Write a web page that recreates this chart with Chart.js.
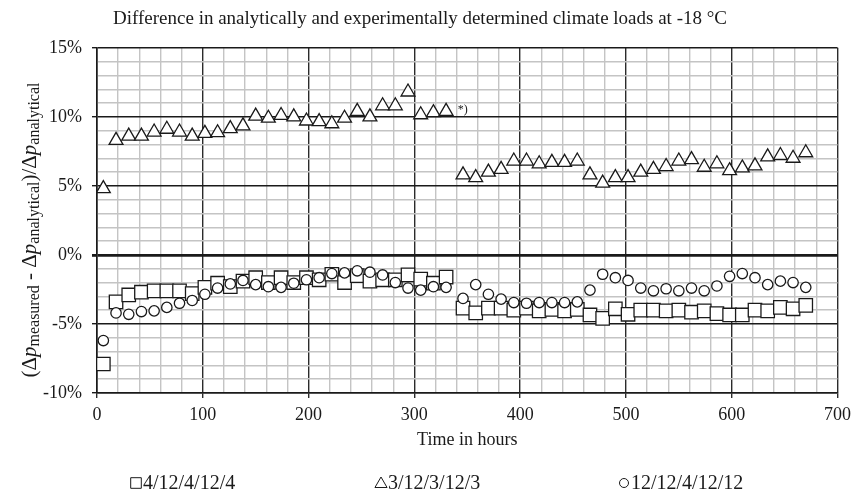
<!DOCTYPE html>
<html lang="en">
<head>
<meta charset="UTF-8">
<title>Climate loads at -18 °C</title>
<script src="https://cdn.jsdelivr.net/npm/chart.js"></script>
<style>
  html, body { margin: 0; padding: 0; background: #fff; }
  #wrap { width: 857px; height: 500px; }
</style>
</head>
<body>
<div id="wrap"><canvas id="chart" width="857" height="500"></canvas></div>
<script>
// time of each measurement (hours)
const hours = [6, 18, 30, 42, 54, 66, 78, 90, 102, 114, 126, 138, 150, 162, 174, 186, 198, 210, 222, 234,
               246, 258, 270, 282, 294, 306, 318, 330,
               346, 358, 370, 382, 394, 406, 418, 430, 442, 454, 466, 478, 490, 502, 514, 526, 538, 550,
               562, 574, 586, 598, 610, 622, 634, 646, 658, 670];

// (dp measured - dp analytical) / dp analytical, in %
const glass4 = [-7.9, -3.4, -2.9, -2.7, -2.6, -2.6, -2.6, -2.8, -2.35, -2.05, -2.3, -1.9, -1.65, -2.0, -1.65, -2.0,
                -1.65, -1.8, -1.4, -2.0, -1.5, -1.9, -1.8, -1.8, -1.45, -1.75, -2.05, -1.6,
                -3.85, -4.2, -3.85, -3.85, -4.0, -3.85, -4.05, -3.95, -4.05, -3.95, -4.35, -4.6, -3.9, -4.3,
                -4.0, -4.0, -4.05, -4.0, -4.15, -4.05, -4.25, -4.35, -4.35, -4.0, -4.05, -3.8, -3.9, -3.65];
const glass3 = [4.8, 8.3, 8.6, 8.6, 8.9, 9.1, 8.9, 8.6, 8.8, 8.85, 9.15, 9.35, 10.05, 9.9, 10.1, 10.0,
                9.7, 9.65, 9.5, 9.9, 10.4, 10.0, 10.8, 10.8, 11.8, 10.15, 10.3, 10.4,
                5.8, 5.6, 6.0, 6.2, 6.8, 6.8, 6.6, 6.7, 6.7, 6.8, 5.8, 5.2, 5.6, 5.6,
                6.0, 6.2, 6.4, 6.8, 6.9, 6.35, 6.6, 6.1, 6.3, 6.45, 7.1, 7.2, 7.0, 7.4];
const glass12 = [-6.2, -4.2, -4.3, -4.1, -4.05, -3.8, -3.5, -3.3, -2.85, -2.4, -2.1, -1.85, -2.15, -2.3, -2.35, -2.05,
                 -1.8, -1.65, -1.35, -1.3, -1.15, -1.25, -1.45, -2.0, -2.4, -2.55, -2.3, -2.35,
                 -3.15, -2.15, -2.85, -3.2, -3.45, -3.5, -3.45, -3.45, -3.45, -3.4, -2.55, -1.4, -1.65, -1.85,
                 -2.4, -2.6, -2.45, -2.6, -2.4, -2.6, -2.25, -1.55, -1.35, -1.65, -2.15, -1.9, -2.0, -2.35];

const seriesNames = ['4/12/4/12/4', '3/12/3/12/3', '12/12/4/12/12'];
const seriesShapes = ['rect', 'triangle', 'circle'];

const SERIF = "'Liberation Serif', 'DejaVu Serif', serif";
const INK = '#1a1a1a';

function toPoints(vals) {
    return hours.map((h, i) => ({ x: h, y: vals[i] }));
}

// y title with italic p and subscripts, drawn rotated
const yTitlePlugin = {
    id: 'yTitle',
    afterDraw(chart) {
        const ctx = chart.ctx;
        const big = '21px ' + SERIF, bigI = 'italic 21px ' + SERIF, small = '16px ' + SERIF;
        const parts = [
            ['(Δ', big, 0], ['p', bigI, 0], ['measured', small, 5],
            [' - Δ', big, 0], ['p', bigI, 0], ['analytical', small, 5],
            [')/Δ', big, 0], ['p', bigI, 0], ['analytical', small, 5]
        ];
        ctx.save();
        let total = 0;
        parts.forEach(p => { ctx.font = p[1]; total += ctx.measureText(p[0]).width; });
        ctx.translate(30, 230);
        ctx.rotate(-Math.PI / 2);
        ctx.fillStyle = INK;
        ctx.textBaseline = 'middle';
        let x = -total / 2;
        parts.forEach(p => {
            ctx.font = p[1];
            ctx.fillText(p[0], x, p[2]);
            x += ctx.measureText(p[0]).width;
        });
        ctx.restore();
    }
};

// "*)" note next to the last point of the first run
const notePlugin = {
    id: 'note',
    afterDatasetsDraw(chart) {
        const ctx = chart.ctx;
        const xs = chart.scales.x, ys = chart.scales.y;
        ctx.save();
        ctx.font = '12px ' + SERIF;
        ctx.fillStyle = INK;
        ctx.textBaseline = 'middle';
        ctx.fillText('*)', xs.getPixelForValue(341), ys.getPixelForValue(10.5));
        ctx.restore();
    }
};

// legend spread across the bottom like the original
const legendPlugin = {
    id: 'spreadLegend',
    afterDraw(chart) {
        const ctx = chart.ctx;
        const starts = [131, 376, 619];
        const y = 483;
        ctx.save();
        ctx.textBaseline = 'middle';
        chart.data.datasets.forEach((ds, i) => {
            const r = ds.pointStyle === 'circle' ? 4.5 : (ds.pointStyle === 'rect' ? 7.5 : 7);
            ctx.strokeStyle = INK;
            ctx.fillStyle = '#fff';
            Chart.helpers.drawPoint(ctx, {
                pointStyle: ds.pointStyle, radius: r, borderWidth: 1.2
            }, starts[i] + 5, y + (ds.pointStyle === 'triangle' ? 1 : 0));
            ctx.fillStyle = INK;
            ctx.font = '20px ' + SERIF;
            ctx.fillText(seriesNames[i], starts[i] + 12, y + 1);
        });
        ctx.restore();
    }
};

const datasets = [glass4, glass3, glass12].map((vals, i) => ({
    label: seriesNames[i],
    data: toPoints(vals),
    order: 2 - i,
    pointStyle: seriesShapes[i],
    pointRadius: [9.5, 8, 5.2][i],
    pointBorderWidth: 1.3,
    pointBorderColor: INK,
    pointBackgroundColor: '#fff',
    showLine: false
}));

new Chart(document.getElementById('chart'), {
    type: 'scatter',
    data: { datasets: datasets },
    options: {
        responsive: false,
        animation: false,
        layout: { padding: { left: 0, right: 17, top: 0, bottom: 49 } },
        plugins: {
            legend: { display: false },
            tooltip: { enabled: false },
            title: {
                display: true,
                text: 'Difference in analytically and experimentally determined climate loads at -18 °C',
                color: INK,
                font: { family: SERIF, size: 19, weight: 'normal' },
                padding: { top: 8, bottom: 17 }
            }
        },
        scales: {
            x: {
                type: 'linear',
                min: 0, max: 700,
                ticks: {
                    stepSize: 20,
                    autoSkip: false,
                    maxRotation: 0,
                    padding: 6,
                    color: INK,
                    font: { family: SERIF, size: 18 },
                    callback: v => (v % 100 === 0 ? v : '')
                },
                grid: {
                    color: c => (c.tick.value % 100 === 0 ? '#2b2b2b' : '#c4c4c4'),
                    lineWidth: 1.4,
                    tickColor: c => (c.tick.value % 100 === 0 ? '#2b2b2b' : 'rgba(0,0,0,0)'),
                    tickLength: 5
                },
                border: { color: '#1a1a1a', width: 1.6 },
                title: {
                    display: true,
                    text: 'Time in hours',
                    color: INK,
                    font: { family: SERIF, size: 18 },
                    padding: { top: 4, bottom: 0 }
                },
                afterFit: s => { s.height = 58; }
            },
            y: {
                min: -10, max: 15,
                ticks: {
                    stepSize: 1,
                    autoSkip: false,
                    padding: 10,
                    color: INK,
                    font: { family: SERIF, size: 18 },
                    callback: v => (v % 5 === 0 ? v + '%' : '')
                },
                grid: {
                    color: c => (c.tick.value % 5 === 0 ? '#1a1a1a' : '#c4c4c4'),
                    lineWidth: c => (c.tick.value === 0 ? 2.8 : 1.4),
                    tickColor: c => (c.tick.value % 5 === 0 ? '#1a1a1a' : 'rgba(0,0,0,0)'),
                    tickLength: 5
                },
                border: { color: '#1a1a1a', width: 1.6 },
                afterFit: s => { s.width = 97; }
            }
        }
    },
    plugins: [yTitlePlugin, notePlugin, legendPlugin]
});
</script>
</body>
</html>
